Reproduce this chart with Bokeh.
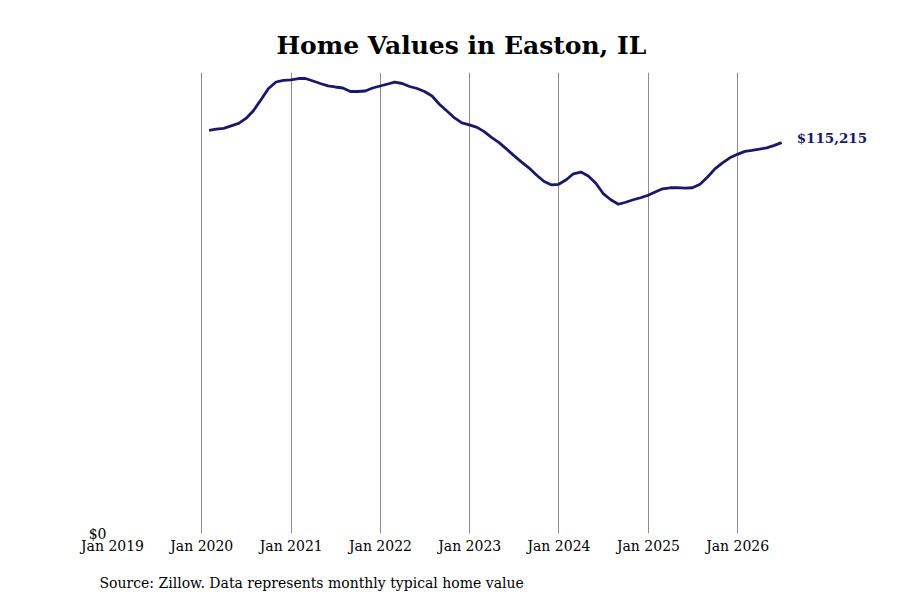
import pandas as pd
from bokeh.plotting import figure
from bokeh.models import (Range1d, FixedTicker, DatetimeTickFormatter, Title,
                          CustomJSTickFormatter)
from bokeh.core.properties import value
from bokeh.embed import file_html
from bokeh.resources import INLINE

# ---- data ----
start_month = "2020-01-01"
n_months = 78
home_values = [
    118833, 119186, 119421, 120156, 120892, 122362, 124715, 127951, 131187, 133099,
    133599, 133747, 134128, 134128, 133393, 132657, 131980, 131628, 131334, 130304,
    130304, 130451, 131334, 131922, 132510, 133040, 132657, 131775, 131187, 130304,
    128980, 126480, 124568, 122509, 121038, 120451, 119715, 118539, 116774, 115303,
    113391, 111479, 109567, 107802, 105743, 103831, 102802, 102949, 104273, 106038,
    106538, 105390, 103243, 100213, 98390, 97066, 97654, 98390, 98978, 99713,
    100743, 101625, 101919, 101978, 101831, 101919, 102949, 105096, 107508, 109273,
    110744, 111773, 112656, 112950, 113303, 113685, 114420, 115215,
]
tick_years = [2019, 2020, 2021, 2022, 2023, 2024, 2025, 2026]
grid_years = [2020, 2021, 2022, 2023, 2024, 2025, 2026]
title_text = "Home Values in Easton, IL"
source_text = "Source: Zillow. Data represents monthly typical home value"
last_label = "$115,215"

dates = pd.date_range(start_month, periods=n_months, freq="MS") + pd.offsets.MonthEnd(0)

def ms(ts):
    return pd.Timestamp(ts).value / 1e6

FONT = "DejaVu Serif"
LINE_COLOR = "#19196b"

x_start = ms(f"{tick_years[0]}-01-01")
px_per_year = 89.3
frame_w = 768
x_end = x_start + frame_w / px_per_year * 365.25 * 86400000

p = figure(width=884, height=600, output_backend="svg", toolbar_location=None,
           x_axis_type="datetime",
           x_range=Range1d(x_start, x_end), y_range=Range1d(0, 135900),
           min_border_left=112, min_border_right=4, min_border_top=72,
           min_border_bottom=67, title=None)
p.outline_line_color = None
p.background_fill_color = "white"
p.border_fill_color = "white"

p.add_layout(Title(text=title_text, align="left", text_font=FONT,
                   text_font_size="25px", text_font_style="bold",
                   text_color="black", offset=164, standoff=26), "above")
# spacer between axis labels and source note
p.add_layout(Title(text=" ", align="left", text_font=FONT, text_font_size="1px",
                   standoff=8), "below")
p.add_layout(Title(text=source_text, align="left", text_font=FONT,
                   text_font_size="14px", text_font_style="normal",
                   text_color="black", offset=-13, standoff=10), "below")

p.line(dates, home_values, line_color=LINE_COLOR, line_width=2.8)
p.text([dates[-1]], [home_values[-1]], text=[last_label], x_offset=15, y_offset=-5,
       text_font=value(FONT), text_font_size="13.5px", text_font_style="bold",
       text_color=LINE_COLOR, text_baseline="middle", text_align="left")

p.xaxis.ticker = FixedTicker(ticks=[ms(f"{y}-01-01") for y in tick_years])
p.xaxis.formatter = DatetimeTickFormatter(years="Jan %Y", months="Jan %Y",
                                          days="Jan %Y")
p.xaxis.axis_line_color = None
p.xaxis.major_tick_line_color = None
p.xaxis.minor_tick_line_color = None
p.xaxis.major_tick_out = 0
p.xaxis.minor_tick_out = 0
p.xaxis.major_label_text_font = FONT
p.xaxis.major_label_text_font_size = "14px"
p.xaxis.major_label_text_color = "black"
p.xaxis.major_label_standoff = 4

p.yaxis.ticker = FixedTicker(ticks=[0])
p.yaxis.formatter = CustomJSTickFormatter(code="return '$' + tick.toLocaleString('en-US');")
p.yaxis.axis_line_color = None
p.yaxis.major_tick_line_color = None
p.yaxis.minor_tick_line_color = None
p.yaxis.major_tick_out = 0
p.yaxis.minor_tick_out = 0
p.yaxis.major_label_text_font = FONT
p.yaxis.major_label_text_font_size = "14px"
p.yaxis.major_label_text_color = "black"
p.yaxis.major_label_standoff = 6
p.yaxis.major_label_orientation = "horizontal"

p.ygrid.grid_line_color = None
p.xgrid.ticker = FixedTicker(ticks=[ms(f"{y}-01-01") for y in grid_years])
p.xgrid.grid_line_color = "#8c8c8c"
p.xgrid.grid_line_width = 1

open("out.html", "w").write(file_html(p, INLINE))
